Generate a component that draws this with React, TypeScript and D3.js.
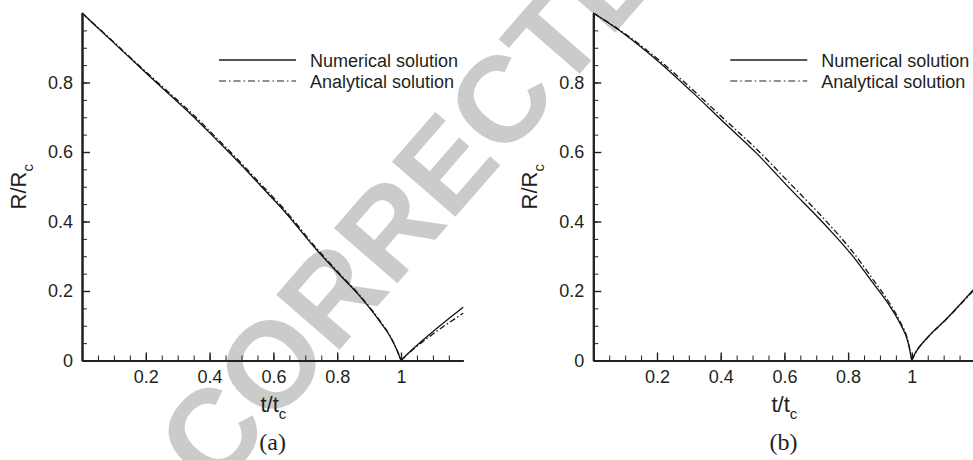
import { useEffect, useRef } from 'react';
import * as d3 from 'd3';

// ── axis content ─────────────────────────────────────────────────────────────
const X_MAX = 1.195;
const X_MAJOR = [0.2, 0.4, 0.6, 0.8, 1];
const X_LABELS = ['0.2', '0.4', '0.6', '0.8', '1'];
const Y_MAJOR = [0, 0.2, 0.4, 0.6, 0.8];
const Y_LABELS = ['0', '0.2', '0.4', '0.6', '0.8'];
const LEGEND = ['Numerical solution', 'Analytical solution'];
const PANEL_TAGS = ['(a)', '(b)'];

// ── panel (a) ────────────────────────────────────────────────────────────────
const A_NUM_T = [0, 0.1, 0.2, 0.276, 0.339, 0.422, 0.495, 0.563, 0.631, 0.736, 0.798, 0.872, 0.934, 0.966, 0.987, 1.0, 1.028, 1.091, 1.195];
const A_NUM_R = [1.0, 0.914, 0.828, 0.764, 0.711, 0.635, 0.567, 0.5, 0.433, 0.318, 0.256, 0.184, 0.112, 0.069, 0.03, 0.0, 0.025, 0.076, 0.153];
const A_ANA_T = [0, 0.1, 0.2, 0.276, 0.339, 0.422, 0.495, 0.563, 0.631, 0.736, 0.798, 0.872, 0.934, 0.966, 0.987, 1.0, 1.028, 1.091, 1.195];
const A_ANA_R = [1.0, 0.916, 0.831, 0.768, 0.716, 0.64, 0.572, 0.505, 0.438, 0.322, 0.259, 0.186, 0.114, 0.07, 0.031, 0.0, 0.024, 0.07, 0.136];

// ── panel (b) ────────────────────────────────────────────────────────────────
const B_NUM_T = [0, 0.094, 0.199, 0.304, 0.408, 0.513, 0.618, 0.733, 0.816, 0.879, 0.932, 0.963, 0.989, 1.0, 1.01, 1.047, 1.11, 1.195];
const B_NUM_R = [1.0, 0.942, 0.865, 0.778, 0.687, 0.596, 0.494, 0.385, 0.299, 0.222, 0.155, 0.107, 0.05, 0.0, 0.02, 0.064, 0.121, 0.205];
const B_ANA_T = [0, 0.094, 0.199, 0.304, 0.408, 0.513, 0.618, 0.733, 0.816, 0.879, 0.932, 0.963, 0.989, 1.0, 1.01, 1.047, 1.11, 1.195];
const B_ANA_R = [1.0, 0.944, 0.87, 0.786, 0.697, 0.608, 0.509, 0.399, 0.311, 0.232, 0.162, 0.112, 0.052, 0.0, 0.019, 0.063, 0.12, 0.203];

const WATERMARK = 'CORRECTED';

const W = 973, H = 460;
const AXIS = '#231f20';
const SANS = '"Liberation Sans", Arial, Helvetica, sans-serif';
const SERIF = '"Liberation Serif", "Times New Roman", serif';

const panels = [
  { left: 82, unit: 319, tag: PANEL_TAGS[0], num: d3.zip(A_NUM_T, A_NUM_R), ana: d3.zip(A_ANA_T, A_ANA_R) },
  { left: 593.3, unit: 318.5, tag: PANEL_TAGS[1], num: d3.zip(B_NUM_T, B_NUM_R), ana: d3.zip(B_ANA_T, B_ANA_R) },
];

function drawPanel(svg: any, p: any) {
  const x = d3.scaleLinear().domain([0, X_MAX]).range([p.left, p.left + p.unit * X_MAX]);
  const y = d3.scaleLinear().domain([0, 1]).range([360.5, 13]);
  const g = svg.append('g');

  // curves: split at the collapse point so the cusp stays sharp
  const line = d3.line<any>().x(d => x(d[0])).y(d => y(d[1])).curve(d3.curveMonotoneX);
  [{ pts: p.num, dash: null }, { pts: p.ana, dash: '6,2.5,1.5,2.5' }].forEach(s => {
    const down = s.pts.filter((d: number[]) => d[0] <= 1);
    const up = s.pts.filter((d: number[]) => d[0] >= 1);
    [down, up].forEach(seg => {
      g.append('path').attr('d', line(seg)).attr('fill', 'none')
        .attr('stroke', '#111').attr('stroke-width', 1.3)
        .attr('stroke-dasharray', s.dash);
    });
  });

  const minorX = d3.range(1, 24).map(i => i * 0.05).filter(v => v < X_MAX);
  const minorY = d3.range(1, 20).map(i => i * 0.05);

  const styleAxis = (ax: any) => {
    ax.select('.domain').attr('stroke', AXIS).attr('stroke-width', 2);
    ax.selectAll('line').attr('stroke', AXIS).attr('stroke-width', 1.4);
    ax.selectAll('text').attr('fill', '#231f20').style('font-family', SANS).style('font-size', '18px');
  };

  // minor ticks
  g.append('g').attr('transform', `translate(0,${y(0)})`)
    .call(d3.axisBottom(x).tickValues(minorX).tickSize(-5).tickSizeOuter(0).tickFormat(() => ''))
    .call(styleAxis).call((ax: any) => ax.selectAll('line').attr('stroke-width', 1));
  g.append('g').attr('transform', `translate(${x(0)},0)`)
    .call(d3.axisLeft(y).tickValues(minorY).tickSize(-5).tickSizeOuter(0).tickFormat(() => ''))
    .call(styleAxis).call((ax: any) => ax.selectAll('line').attr('stroke-width', 1));

  // major ticks + labels
  g.append('g').attr('transform', `translate(0,${y(0)})`)
    .call(d3.axisBottom(x).tickValues(X_MAJOR).tickSize(-8).tickSizeOuter(0).tickPadding(10)
      .tickFormat((_d, i) => X_LABELS[i]))
    .call(styleAxis);
  g.append('g').attr('transform', `translate(${x(0)},0)`)
    .call(d3.axisLeft(y).tickValues(Y_MAJOR).tickSize(-8).tickSizeOuter(0).tickPadding(9)
      .tickFormat((_d, i) => Y_LABELS[i]))
    .call(styleAxis);

  // axis titles
  const xt = g.append('text').attr('x', x(0.6)).attr('y', 411.5)
    .attr('text-anchor', 'middle').style('font-family', SANS).style('font-size', '22px').attr('fill', '#231f20');
  xt.append('tspan').text('t/t');
  xt.append('tspan').attr('dy', 7).style('font-size', '15px').text('c');

  const yt = g.append('text').attr('transform', `translate(${x(0) - 56},${y(0.5)}) rotate(-90)`)
    .attr('text-anchor', 'middle').style('font-family', SANS).style('font-size', '22px').attr('fill', '#231f20');
  yt.append('tspan').text('R/R');
  yt.append('tspan').attr('dy', 7).style('font-size', '15px').text('c');

  g.append('text').attr('x', x(X_MAX / 2)).attr('y', 450)
    .attr('text-anchor', 'middle').style('font-family', SERIF).style('font-size', '24px')
    .attr('fill', '#231f20').text(p.tag);

  // legend
  const lx = p.left + 137;
  [0, 1].forEach(i => {
    const ly = 60 + i * 21;
    g.append('line').attr('x1', lx).attr('x2', lx + 77).attr('y1', ly).attr('y2', ly)
      .attr('stroke', i === 0 ? '#555' : '#222').attr('stroke-width', i === 0 ? 1.8 : 1.2)
      .attr('stroke-dasharray', i === 0 ? null : '7,3,1.5,3');
    g.append('text').attr('x', lx + 91).attr('y', ly + 6.5)
      .style('font-family', SANS).style('font-size', '18px').attr('fill', '#231f20')
      .text(LEGEND[i]);
  });
}

export default function App() {
  const ref = useRef<SVGSVGElement>(null);

  useEffect(() => {
    if (!ref.current) return;
    const svg = d3.select(ref.current);
    svg.selectAll('*').remove();

    svg.append('rect').attr('width', W).attr('height', H).attr('fill', '#fff');

    // watermark (runs off the top edge, as in the source scan)
    svg.append('text')
      .attr('transform', 'translate(436,175) rotate(-49)')
      .attr('text-anchor', 'middle').attr('dominant-baseline', 'central')
      .style('font-family', SANS).style('font-weight', 700).style('font-size', '122px')
      .attr('fill', '#cbcbcb').text(WATERMARK);

    panels.forEach(p => drawPanel(svg, p));
  }, []);

  return (
    <svg ref={ref} width={W} height={H} viewBox={`0 0 ${W} ${H}`}
      style={{ position: 'absolute', left: 0, top: 0, display: 'block' }} />
  );
}
